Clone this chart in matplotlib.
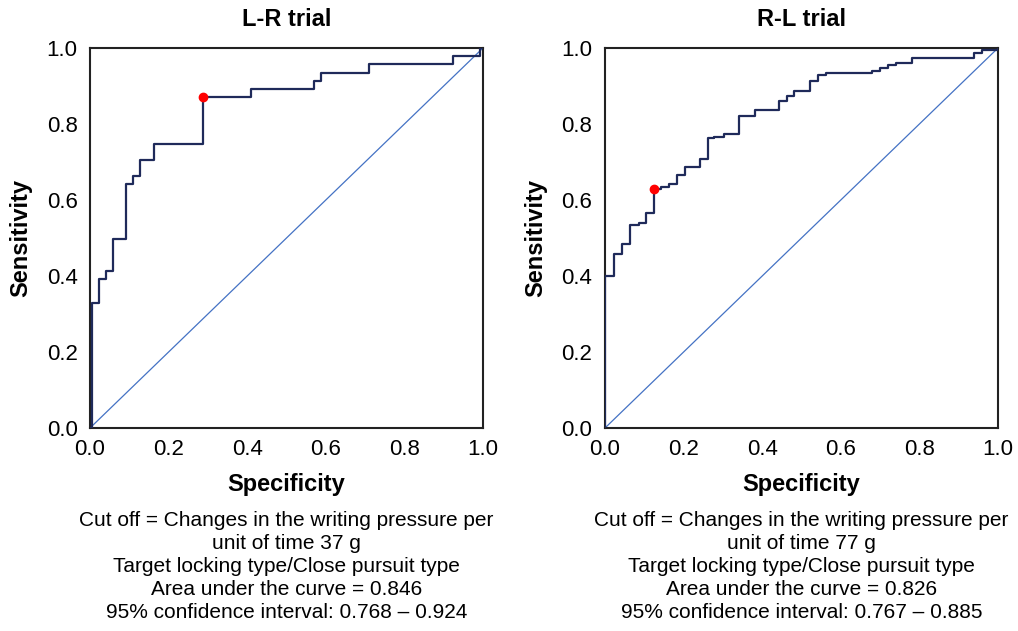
import matplotlib
matplotlib.use("Agg")
import matplotlib.pyplot as plt

plt.rcParams['font.family'] = ['Liberation Sans', 'DejaVu Sans']

# Data
lr_spec = [0, 0.006, 0.023, 0.040, 0.058, 0.092, 0.110, 0.128, 0.163, 0.288, 0.410,
           0.569, 0.587, 0.711, 0.923, 0.992, 1.0]
lr_sens = [0, 0.330, 0.393, 0.414, 0.497, 0.642, 0.664, 0.706, 0.747, 0.870, 0.893,
           0.913, 0.934, 0.957, 0.978, 1.0, 1.0]
lr_cut = (0.288, 0.870)

rl_spec = [0, 0, 0.024, 0.044, 0.064, 0.086, 0.104, 0.124, 0.142, 0.164, 0.183, 0.204,
           0.243, 0.263, 0.278, 0.302, 0.341, 0.381, 0.442, 0.462, 0.482, 0.522, 0.541,
           0.562, 0.680, 0.700, 0.721, 0.741, 0.780, 0.939, 0.960, 1.0]
rl_sens = [0, 0.399, 0.459, 0.485, 0.533, 0.540, 0.567, 0.628, 0.634, 0.641, 0.666, 0.687,
           0.707, 0.762, 0.766, 0.773, 0.820, 0.836, 0.860, 0.873, 0.888, 0.914, 0.928,
           0.934, 0.940, 0.948, 0.955, 0.961, 0.974, 0.986, 0.995, 1.0]
rl_cut = (0.124, 0.628)

titles = ["L-R trial", "R-L trial"]
ticks = [0.0, 0.2, 0.4, 0.6, 0.8, 1.0]
tick_labels = ["0.0", "0.2", "0.4", "0.6", "0.8", "1.0"]
captions = [
    "Cut off = Changes in the writing pressure per\nunit of time 37 g\nTarget locking type/Close pursuit type\nArea under the curve = 0.846\n95% confidence interval: 0.768 \u2013 0.924",
    "Cut off = Changes in the writing pressure per\nunit of time 77 g\nTarget locking type/Close pursuit type\nArea under the curve = 0.826\n95% confidence interval: 0.767 \u2013 0.885",
]

W, H = 1018, 631
fig = plt.figure(figsize=(W / 100, H / 100), dpi=100)

panels = [(lr_spec, lr_sens, lr_cut), (rl_spec, rl_sens, rl_cut)]
lefts = [90, 605]
for i, (xs, ys, cut) in enumerate(panels):
    ax = fig.add_axes([lefts[i] / W, (H - 428) / H, 393 / W, 380 / H])
    ax.plot([0, 1], [0, 1], color='#4472c4', lw=0.9, zorder=2)
    ax.plot(xs, ys, drawstyle='steps-post', color='#1f2a5a', lw=1.6, zorder=3)
    ax.plot([cut[0]], [cut[1]], 'o', color='#ff0000', ms=6, zorder=4)
    ax.set_xlim(0, 1)
    ax.set_ylim(0, 1)
    ax.set_xticks(ticks)
    ax.set_xticklabels(tick_labels)
    ax.set_yticks(ticks)
    ax.set_yticklabels(tick_labels)
    ax.tick_params(axis='both', length=0, labelsize=16)
    ax.tick_params(axis='y', pad=9)
    ax.tick_params(axis='x', pad=8)
    for sp in ax.spines.values():
        sp.set_color('#222222')
        sp.set_linewidth(1.5)
    ax.set_title(titles[i], fontsize=17, fontweight='bold', pad=16)
    ax.set_xlabel("Specificity", fontsize=17, fontweight='bold', labelpad=9)
    ax.set_ylabel("Sensitivity", fontsize=17, fontweight='bold', labelpad=10)
    cx = (lefts[i] + 196.5) / W
    fig.text(cx, 1 - 511 / H, captions[i], ha='center', va='top', fontsize=15,
             linespacing=1.26)

fig.savefig("out.png", dpi=100, facecolor='white')
